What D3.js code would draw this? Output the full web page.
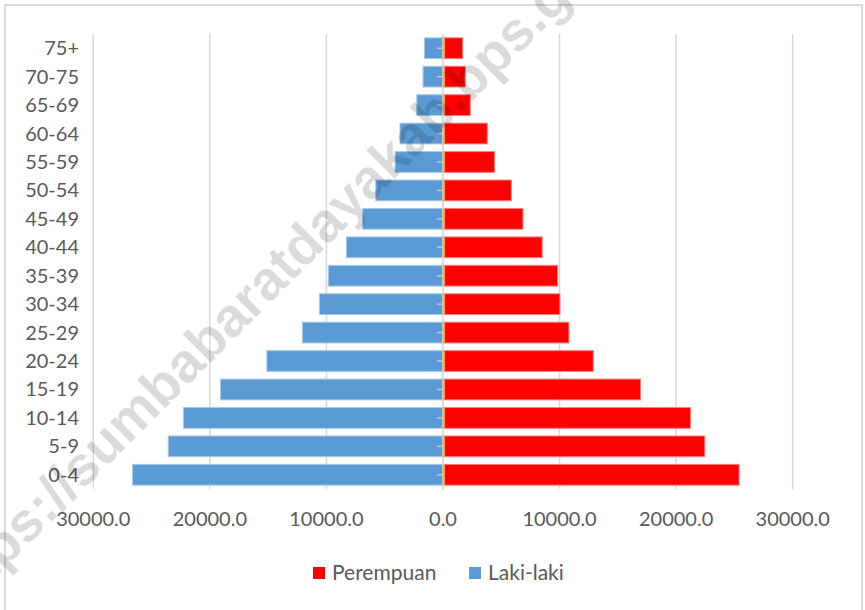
<!DOCTYPE html>
<html lang="id">
<head>
<meta charset="utf-8">
<title>Piramida Penduduk</title>
<script src="https://cdn.jsdelivr.net/npm/d3@7"></script>
<style>
  body { margin: 0; background: #fff; }
  svg { display: block; font-family: Lato, "Open Sans", sans-serif; }
  .grid line { stroke: #d9d9d9; stroke-width: 1.5px; }
  .lbl { fill: #595959; font-size: 20px; }
</style>
</head>
<body>
<div id="chart"></div>
<script>
var groups = ["0-4", "5-9", "10-14", "15-19", "20-24", "25-29", "30-34", "35-39",
              "40-44", "45-49", "50-54", "55-59", "60-64", "65-69", "70-75", "75+"];
var lakiLaki = [26630, 23570, 22260, 19090, 15110, 12060, 10600, 9830,
                8290, 6890, 5770, 4110, 3690, 2250, 1710, 1600];
var perempuan = [25400, 22460, 21230, 16950, 12890, 10800, 10030, 9830,
                 8510, 6860, 5860, 4430, 3800, 2340, 1910, 1690];
var xTicks = [-30000, -20000, -10000, 0, 10000, 20000, 30000];
var legendItems = [["Perempuan", "#ff0000"], ["Laki-laki", "#5b9bd5"]];

var width = 865, height = 610;

var svg = d3.select("#chart").append("svg")
    .attr("width", width)
    .attr("height", height);

// chart frame
svg.append("rect")
    .attr("x", 5).attr("y", 5)
    .attr("width", 857).attr("height", 620)
    .attr("fill", "#fff")
    .attr("stroke", "#d9d9d9")
    .attr("stroke-width", 2);

var x = d3.scaleLinear().domain([-30000, 30000]).range([93.3, 792.7]);
var y = d3.scaleBand()
    .domain(groups.slice().reverse())
    .range([34, 489])
    .paddingInner(0.27)
    .paddingOuter(0.135);

// gridlines
svg.append("g").attr("class", "grid")
  .selectAll("line")
  .data(xTicks.filter(function(d) { return d != 0; }))
  .enter().append("line")
    .attr("x1", function(d) { return x(d); })
    .attr("x2", function(d) { return x(d); })
    .attr("y1", 34).attr("y2", 489);

// bars
svg.append("g").selectAll("rect")
    .data(groups)
  .enter().append("rect")
    .attr("x", function(d, i) { return x(-lakiLaki[i]); })
    .attr("y", function(d) { return y(d); })
    .attr("width", function(d, i) { return x(0) - x(-lakiLaki[i]); })
    .attr("height", y.bandwidth())
    .attr("fill", "#5b9bd5")
    .attr("stroke", "#a9c9ea")
    .attr("stroke-width", 1);

svg.append("g").selectAll("rect")
    .data(groups)
  .enter().append("rect")
    .attr("x", x(0))
    .attr("y", function(d) { return y(d); })
    .attr("width", function(d, i) { return x(perempuan[i]) - x(0); })
    .attr("height", y.bandwidth())
    .attr("fill", "#ff0000")
    .attr("stroke", "#ff7f7f")
    .attr("stroke-width", 1);

// orange edge on female bars
svg.append("g").selectAll("line")
    .data(groups)
  .enter().append("line")
    .attr("x1", x(0) + 1.2).attr("x2", x(0) + 1.2)
    .attr("y1", function(d) { return y(d) + 0.5; })
    .attr("y2", function(d) { return y(d) + y.bandwidth() - 0.5; })
    .attr("stroke", "#ffc000")
    .attr("stroke-width", 1.2);

// vertical axis at zero
var yAxis = svg.append("g")
    .attr("transform", "translate(" + x(0) + ",0)")
    .call(d3.axisLeft(y).tickSize(6).tickFormat(""));
yAxis.select(".domain").attr("stroke", "#d0d0d0").attr("stroke-width", 1.5)
    .attr("d", "M0,34V490");
yAxis.selectAll(".tick line").attr("stroke", "#c8c8c8").attr("stroke-width", 1.5);

// category labels
svg.append("g").selectAll("text")
    .data(groups)
  .enter().append("text")
    .attr("class", "lbl")
    .attr("x", 79)
    .attr("y", function(d) { return y(d) + y.bandwidth() / 2; })
    .attr("dy", "0.35em")
    .attr("text-anchor", "end")
    .text(function(d) { return d; });

// x tick labels
svg.append("g").selectAll("text")
    .data(xTicks)
  .enter().append("text")
    .attr("class", "lbl")
    .attr("x", function(d) { return x(d); })
    .attr("y", 526)
    .attr("text-anchor", "middle")
    .text(function(d) { return d3.format(".1f")(Math.abs(d)); });

// legend
var legX = [313, 469];
var leg = svg.append("g").selectAll("g")
    .data(legendItems)
  .enter().append("g")
    .attr("transform", function(d, i) { return "translate(" + legX[i] + ",567)"; });
leg.append("rect").attr("width", 12).attr("height", 12)
    .attr("fill", function(d) { return d[1]; });
leg.append("text").attr("class", "lbl")
    .attr("x", 19).attr("y", 13)
    .style("font-size", "21px")
    .text(function(d) { return d[0]; });

// watermark
svg.append("text")
    .attr("transform", "translate(284,262) rotate(-45)")
    .attr("text-anchor", "middle")
    .attr("dy", "0.35em")
    .style("font-family", "'Liberation Sans', Arial, sans-serif")
    .style("font-weight", "bold")
    .style("font-size", "55px")
    .attr("fill", "#000")
    .attr("fill-opacity", 0.14)
    .text("https://sumbabaratdayakab.bps.go.id");
</script>
</body>
</html>
